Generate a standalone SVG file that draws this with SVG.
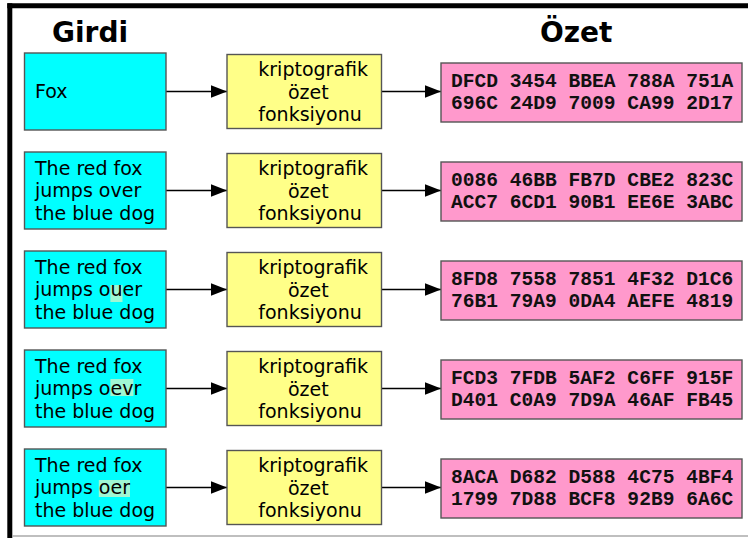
<svg xmlns="http://www.w3.org/2000/svg" width="748" height="538" viewBox="0 0 748 538">
<defs>
<marker id="ah" markerUnits="userSpaceOnUse" markerWidth="17" markerHeight="13" refX="16" refY="6.25" orient="auto">
<path d="M0,0 L16,6.25 L0,12.5 Z" fill="#000"/>
</marker>
<style>
.in{fill:#00ffff;stroke:#555;stroke-width:1.4}
.fn{fill:#ffff88;stroke:#555;stroke-width:1.4}
.out{fill:#ff99cc;stroke:#555;stroke-width:1.4}
.t{font-family:"DejaVu Sans",sans-serif;font-size:19px;fill:#000}
.h{font-family:"Liberation Mono","Courier New",monospace;font-weight:bold;font-size:19.6px;fill:#111}
.ti{font-family:"DejaVu Sans",sans-serif;font-weight:bold;font-size:28px;fill:#000}
.hl{fill:#a0f7d4}
.c{stroke:#000;stroke-width:1.5;fill:none;marker-end:url(#ah)}
</style>
</defs>
<rect width="748" height="538" fill="#fff"/>
<line x1="7.3" y1="5.8" x2="748" y2="5.8" stroke="#000" stroke-width="5"/>
<line x1="9.8" y1="3.3" x2="9.8" y2="538" stroke="#000" stroke-width="5"/>
<line x1="12" y1="536" x2="748" y2="536" stroke="#aaa" stroke-width="1.5"/>
<g id="titles">
<text class="ti" x="52" y="42">Girdi</text>
<text class="ti" x="540" y="42">Özet</text>
</g>
<g id="connectors">
<line class="c" x1="166" y1="91.5" x2="227" y2="91.5"/>
<line class="c" x1="381.5" y1="91.5" x2="441" y2="91.5"/>
<line class="c" x1="166" y1="190.5" x2="227" y2="190.5"/>
<line class="c" x1="381.5" y1="190.5" x2="441" y2="190.5"/>
<line class="c" x1="166" y1="289.5" x2="227" y2="289.5"/>
<line class="c" x1="381.5" y1="289.5" x2="441" y2="289.5"/>
<line class="c" x1="166" y1="388.5" x2="227" y2="388.5"/>
<line class="c" x1="381.5" y1="388.5" x2="441" y2="388.5"/>
<line class="c" x1="166" y1="487.5" x2="227" y2="487.5"/>
<line class="c" x1="381.5" y1="487.5" x2="441" y2="487.5"/>
</g>
<g id="in1"><rect class="in" x="24.5" y="53" width="141.5" height="77"/><text class="t" x="35" y="97.5">Fox</text></g>
<g id="in2"><rect class="in" x="24.5" y="152" width="141.5" height="77"/><text class="t" x="35" y="174.5">The red fox</text><text class="t" x="35" y="197">jumps over</text><text class="t" x="35" y="219.5">the blue dog</text></g>
<g id="in3"><rect class="in" x="24.5" y="251" width="141.5" height="77"/><rect class="hl" x="110.4" y="285" width="12.1" height="17"/><text class="t" x="35" y="273.5">The red fox</text><text class="t" x="35" y="296">jumps ouer</text><text class="t" x="35" y="318.5">the blue dog</text></g>
<g id="in4"><rect class="in" x="24.5" y="350" width="141.5" height="77"/><rect class="hl" x="110.4" y="379" width="23" height="17"/><text class="t" x="35" y="372.5">The red fox</text><text class="t" x="35" y="395">jumps oevr</text><text class="t" x="35" y="417.5">the blue dog</text></g>
<g id="in5"><rect class="in" x="24.5" y="449" width="141.5" height="77"/><rect class="hl" x="98.8" y="480" width="31.2" height="17"/><text class="t" x="35" y="471.5">The red fox</text><text class="t" x="35" y="494">jumps oer</text><text class="t" x="35" y="516.5">the blue dog</text></g>
<g id="fn1"><rect class="fn" x="227" y="54.5" width="154.5" height="74"/><text class="t" x="258.3" y="76">kriptografik</text><text class="t" x="288" y="98.5">özet</text><text class="t" x="258.3" y="121">fonksiyonu</text></g>
<g id="fn2"><rect class="fn" x="227" y="153.5" width="154.5" height="74"/><text class="t" x="258.3" y="175">kriptografik</text><text class="t" x="288" y="197.5">özet</text><text class="t" x="258.3" y="220">fonksiyonu</text></g>
<g id="fn3"><rect class="fn" x="227" y="252.5" width="154.5" height="74"/><text class="t" x="258.3" y="274">kriptografik</text><text class="t" x="288" y="296.5">özet</text><text class="t" x="258.3" y="319">fonksiyonu</text></g>
<g id="fn4"><rect class="fn" x="227" y="351.5" width="154.5" height="74"/><text class="t" x="258.3" y="373">kriptografik</text><text class="t" x="288" y="395.5">özet</text><text class="t" x="258.3" y="418">fonksiyonu</text></g>
<g id="fn5"><rect class="fn" x="227" y="450.5" width="154.5" height="74"/><text class="t" x="258.3" y="472">kriptografik</text><text class="t" x="288" y="494.5">özet</text><text class="t" x="258.3" y="517">fonksiyonu</text></g>
<g id="out1"><rect class="out" x="441" y="63" width="301" height="59"/><text class="h" x="451" y="87">DFCD 3454 BBEA 788A 751A</text><text class="h" x="451" y="109">696C 24D9 7009 CA99 2D17</text></g>
<g id="out2"><rect class="out" x="441" y="162" width="301" height="59"/><text class="h" x="451" y="186">0086 46BB FB7D CBE2 823C</text><text class="h" x="451" y="208">ACC7 6CD1 90B1 EE6E 3ABC</text></g>
<g id="out3"><rect class="out" x="441" y="261" width="301" height="59"/><text class="h" x="451" y="285">8FD8 7558 7851 4F32 D1C6</text><text class="h" x="451" y="307">76B1 79A9 0DA4 AEFE 4819</text></g>
<g id="out4"><rect class="out" x="441" y="360" width="301" height="59"/><text class="h" x="451" y="384">FCD3 7FDB 5AF2 C6FF 915F</text><text class="h" x="451" y="406">D401 C0A9 7D9A 46AF FB45</text></g>
<g id="out5"><rect class="out" x="441" y="459" width="301" height="59"/><text class="h" x="451" y="483">8ACA D682 D588 4C75 4BF4</text><text class="h" x="451" y="505">1799 7D88 BCF8 92B9 6A6C</text></g>
</svg>
